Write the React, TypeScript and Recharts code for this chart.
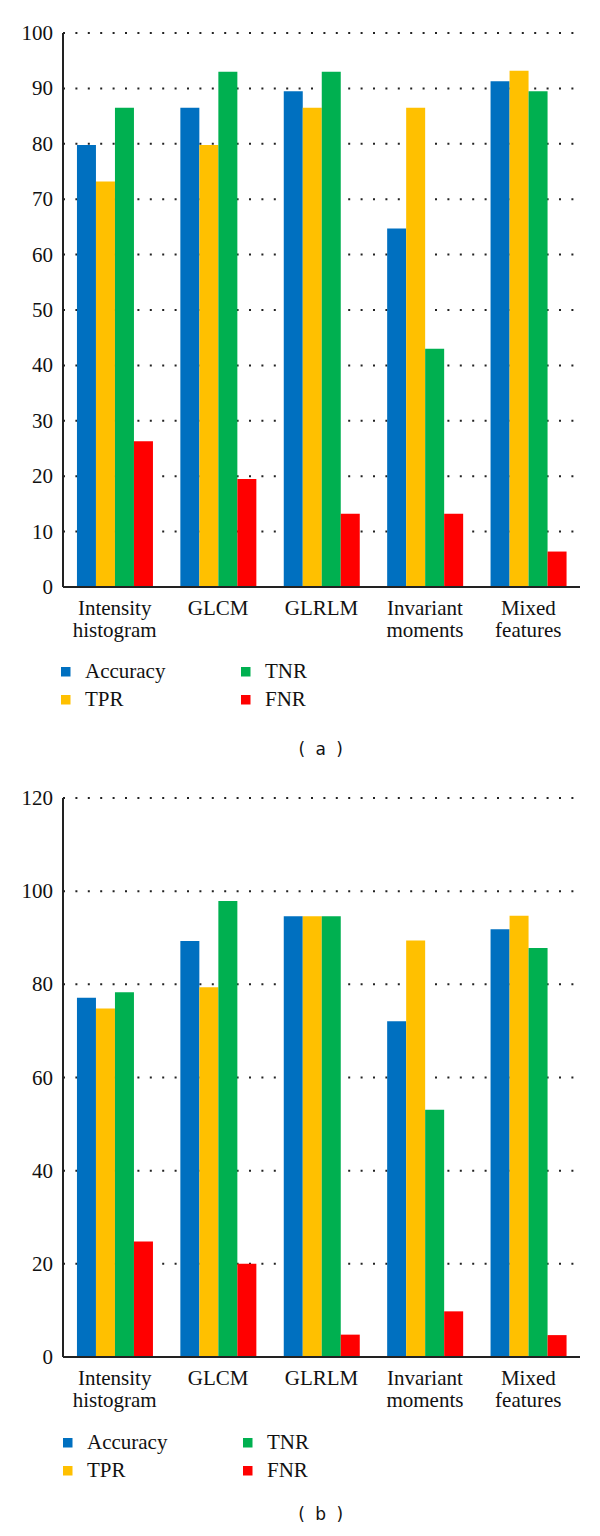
import React from 'react';
import { BarChart, Bar, XAxis, YAxis, CartesianGrid } from 'recharts';

const categories = ['Intensity\nhistogram', 'GLCM', 'GLRLM', 'Invariant\nmoments', 'Mixed\nfeatures'];
const seriesNames = ['Accuracy', 'TPR', 'TNR', 'FNR'];
const seriesColors = ['#0070C0', '#FFC000', '#00B050', '#FF0000'];

// Chart (a)
const accuracyA = [79.8, 86.5, 89.5, 64.7, 91.3];
const tprA = [73.2, 79.8, 86.5, 86.5, 93.2];
const tnrA = [86.5, 93.0, 93.0, 43.0, 89.5];
const fnrA = [26.3, 19.5, 13.2, 13.2, 6.4];
const ticksA = [0, 10, 20, 30, 40, 50, 60, 70, 80, 90, 100];

// Chart (b)
const accuracyB = [77.1, 89.3, 94.6, 72.1, 91.8];
const tprB = [74.8, 79.4, 94.6, 89.4, 94.7];
const tnrB = [78.3, 97.9, 94.6, 53.1, 87.8];
const fnrB = [24.8, 20.0, 4.8, 9.8, 4.7];
const ticksB = [0, 20, 40, 60, 80, 100, 120];

const buildRows = (a: number[], t: number[], n: number[], f: number[]) =>
  categories.map((c, i) => ({ name: c, Accuracy: a[i], TPR: t[i], TNR: n[i], FNR: f[i] }));

const dataA = buildRows(accuracyA, tprA, tnrA, fnrA);
const dataB = buildRows(accuracyB, tprB, tnrB, fnrB);

const SERIF = '"Liberation Serif", "Times New Roman", Times, serif';

const CategoryTick = (props: any) => {
  const { x, y, payload } = props;
  const lines = String(payload.value).split('\n');
  return (
    <g>
      {lines.map((l: string, i: number) => (
        <text
          key={i}
          x={x}
          y={y + 28 + i * 22}
          textAnchor="middle"
          style={{ fontFamily: SERIF, fontSize: 21 }}
          fill="#111"
        >
          {l}
        </text>
      ))}
    </g>
  );
};

const ValueTick = (props: any) => {
  const { x, y, payload } = props;
  return (
    <text
      x={x}
      y={y + 7}
      textAnchor="end"
      style={{ fontFamily: SERIF, fontSize: 21 }}
      fill="#111"
    >
      {payload.value}
    </text>
  );
};

const Legend2x2 = ({ top, left }: { top: number; left: number }) => (
  <svg width={600} height={80} style={{ position: 'absolute', top: top - 20, left: 0 }}>
    {seriesNames.map((s, i) => {
      const col = i < 2 ? 0 : 1;
      const row = i % 2;
      const sx = left + col * 180;
      const sy = 20 + row * 28;
      return (
        <g key={s}>
          <rect x={sx} y={sy + 2} width={9.5} height={9.5} fill={seriesColors[i]} />
          <text x={sx + 24} y={sy + 13} style={{ fontFamily: SERIF, fontSize: 21 }} fill="#111">
            {s}
          </text>
        </g>
      );
    })}
  </svg>
);

const Panel = ({
  data,
  ticks,
  max,
  top,
  height,
  marginTop,
}: {
  data: any[];
  ticks: number[];
  max: number;
  top: number;
  height: number;
  marginTop: number;
}) => (
  <div style={{ position: 'absolute', top, left: 0 }}>
    <BarChart
      width={600}
      height={height}
      data={data}
      margin={{ top: marginTop, right: 20, left: 8, bottom: 0 }}
      barCategoryGap="13.5%"
      barGap={0}
    >
      <CartesianGrid
        horizontal
        vertical={false}
        stroke="#222"
        strokeWidth={2}
        strokeDasharray="2 10.4"
      />
      <XAxis
        dataKey="name"
        height={73}
        tickLine={false}
        tickSize={0}
        tickMargin={0}
        interval={0}
        axisLine={{ stroke: '#222', strokeWidth: 2 }}
        tick={<CategoryTick />}
      />
      <YAxis
        width={55}
        domain={[0, max]}
        ticks={ticks}
        interval={0}
        tickLine={false}
        tickSize={6}
        tickMargin={4}
        axisLine={{ stroke: '#222', strokeWidth: 2 }}
        tick={<ValueTick />}
      />
      {seriesNames.map((s, i) => (
        <Bar key={s} dataKey={s} fill={seriesColors[i]} isAnimationActive={false} />
      ))}
    </BarChart>
  </div>
);

const Caption = ({ top, letter }: { top: number; letter: string }) => (
  <svg width={600} height={34} style={{ position: 'absolute', top, left: 0 }}>
    <text
      x={322}
      y={20}
      textAnchor="middle"
      style={{ fontFamily: '"DejaVu Sans", Verdana, sans-serif', fontSize: 17, whiteSpace: 'pre', letterSpacing: 2.5 }}
      fill="#111"
    >
      {`( ${letter} )`}
    </text>
  </svg>
);

export default function App() {
  return (
    <div
      style={{
        position: 'absolute',
        top: 0,
        left: 0,
        width: 600,
        height: 1536,
        background: '#fff',
        overflow: 'hidden',
      }}
    >
      <Panel data={dataA} ticks={ticksA} max={100} top={0} height={660} marginTop={33} />
      <Legend2x2 top={665} left={61} />
      <Caption top={735} letter="a" />
      <Panel data={dataB} ticks={ticksB} max={120} top={760} height={670} marginTop={38} />
      <Legend2x2 top={1436} left={63} />
      <Caption top={1500} letter="b" />
    </div>
  );
}
